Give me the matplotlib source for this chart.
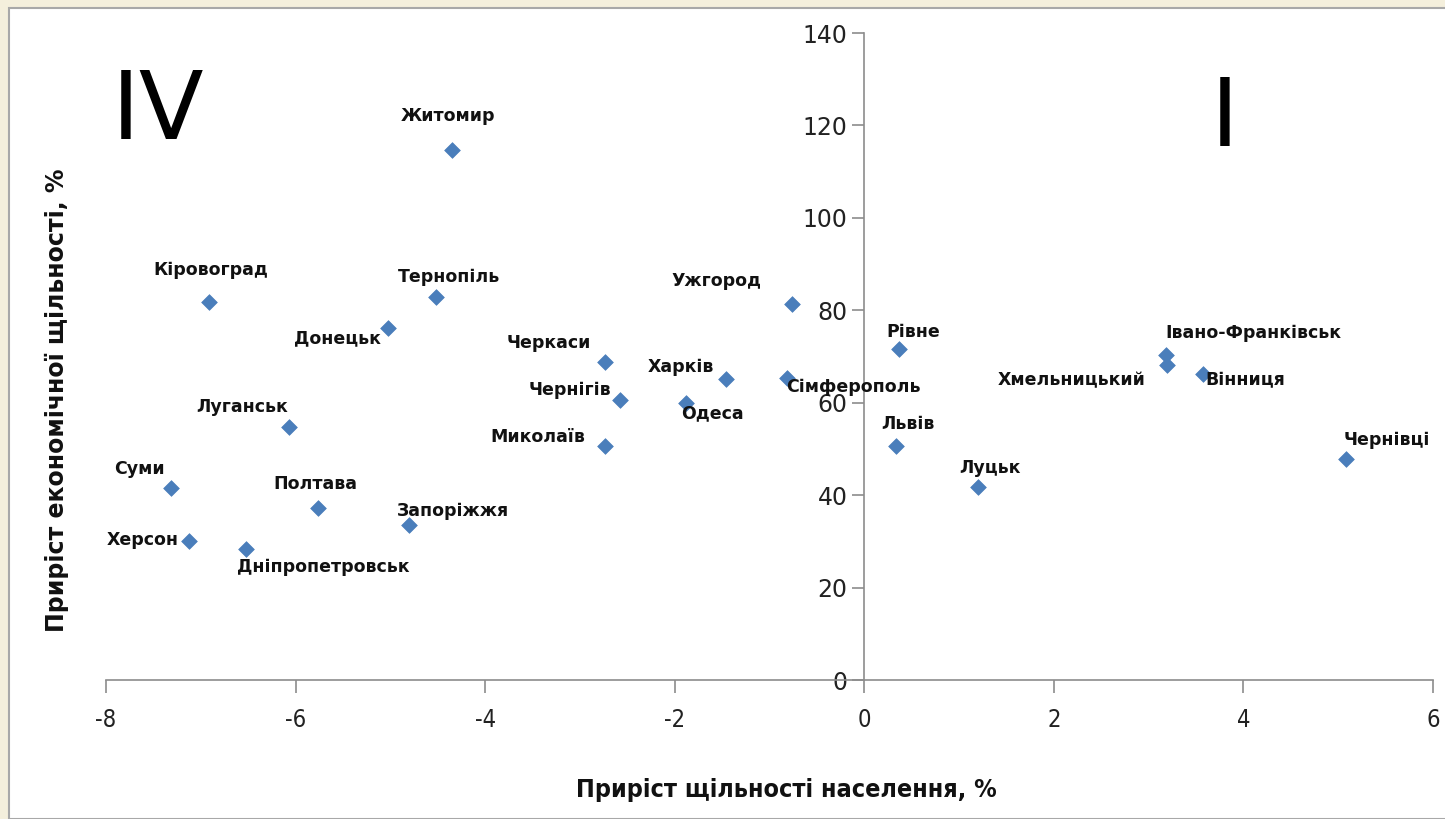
import matplotlib.pyplot as plt
from matplotlib.patches import Rectangle

# Regional centres: population density growth (x) vs economic density growth (y), %
cities = ['Житомир', 'Кіровоград', 'Тернопіль', 'Донецьк', 'Ужгород', 'Черкаси',
          'Харків', 'Сімферополь', 'Чернігів', 'Одеса', 'Луганськ', 'Миколаїв',
          'Суми', 'Полтава', 'Запоріжжя', 'Херсон', 'Дніпропетровськ', 'Рівне',
          'Львів', 'Луцьк', 'Івано-Франківськ', 'Хмельницький', 'Вінниця', 'Чернівці']
pop_growth = [-4.35, -6.91, -4.52, -5.03, -0.76, -2.74,
              -1.46, -0.82, -2.58, -1.88, -6.07, -2.74,
              -7.31, -5.76, -4.80, -7.12, -6.52, 0.37,
              0.33, 1.20, 3.18, 3.19, 3.57, 5.08]
econ_growth = [114.7, 81.8, 82.9, 76.2, 81.4, 68.8,
               65.1, 65.4, 60.6, 59.9, 54.7, 50.6,
               41.5, 37.2, 33.5, 30.1, 28.3, 71.6,
               50.6, 41.8, 70.3, 68.2, 66.2, 47.8]
x_ticks = [-8, -6, -4, -2, 0, 2, 4, 6]
y_ticks = [0, 20, 40, 60, 80, 100, 120, 140]

# label placement: (dx px, dy px, ha)
label_pos = {
    'Житомир': (-4, 34, 'center'), 'Кіровоград': (1, 32, 'center'),
    'Тернопіль': (13, 20, 'center'), 'Донецьк': (-7, -10, 'right'),
    'Ужгород': (-76, 23, 'center'), 'Черкаси': (-56, 19, 'center'),
    'Харків': (-45, 12, 'center'), 'Сімферополь': (0, -9, 'left'),
    'Чернігів': (-8, 10, 'right'), 'Одеса': (26, -10, 'center'),
    'Луганськ': (-47, 20, 'center'), 'Миколаїв': (-19, 9, 'right'),
    'Суми': (-32, 19, 'center'), 'Полтава': (-3, 24, 'center'),
    'Запоріжжя': (-12, 14, 'left'), 'Херсон': (-11, 1, 'right'),
    'Дніпропетровськ': (77, -18, 'center'), 'Рівне': (14, 17, 'center'),
    'Львів': (12, 22, 'center'), 'Луцьк': (12, 19, 'center'),
    'Івано-Франківськ': (0, 22, 'left'), 'Хмельницький': (-21, -15, 'right'),
    'Вінниця': (3, -6, 'left'), 'Чернівці': (41, 19, 'center'),
}

plt.rcParams['font.family'] = ['DejaVu Sans']
plt.rcParams['axes.unicode_minus'] = False

fig = plt.figure(figsize=(14.45, 8.19), dpi=100)
fig.patch.set_facecolor('#f4efdc')
# white slide panel with grey edge
fig.patches.append(Rectangle((9 / 1445, 0), 1, 1 - 8 / 819, transform=fig.transFigure,
                             facecolor='white', edgecolor='#a8a8a8', linewidth=1.5,
                             zorder=-10))

ax = fig.add_axes([106 / 1445, 1 - 680 / 819, 1327 / 1445, 647 / 819])
ax.set_zorder(5)
ax.set_facecolor('none')
ax.set_xlim(-8, 6)
ax.set_ylim(0, 140)

ax.spines['left'].set_position(('data', 0))
ax.spines['top'].set_visible(False)
ax.spines['right'].set_visible(False)
for s in ('left', 'bottom'):
    ax.spines[s].set_color('#8c8c8c')
    ax.spines[s].set_linewidth(1.2)

ax.set_xticks(x_ticks)
ax.set_yticks(y_ticks)
ax.tick_params(axis='both', color='#8c8c8c', width=1.2, length=9, direction='out')
ax.tick_params(axis='x', labelcolor='#222222', labelsize=17, pad=11)
ax.tick_params(axis='y', labelcolor='#222222', labelsize=17, pad=3)
for lbl in ax.get_xticklabels():
    lbl.set_fontstretch('condensed')

ax.scatter(pop_growth, econ_growth, marker='D', s=64, color='#4a7ebb',
           edgecolors='#4a7ebb', linewidths=0.5, zorder=3, clip_on=False)

for name, x, y in zip(cities, pop_growth, econ_growth):
    dx, dy, ha = label_pos[name]
    ax.annotate(name, (x, y), xytext=(dx, dy), textcoords='offset pixels',
                ha=ha, va='center', fontsize=12.5, fontweight='bold',
                color='#111111', zorder=4)

fig.text(158 / 1445, 1 - 113 / 819, 'IV', fontsize=68,
         ha='center', va='center', color='black')
fig.text(1225 / 1445, 1 - 120 / 819, 'I', fontsize=68,
         ha='center', va='center', color='black')

fig.text(57 / 1445, 1 - 400 / 819, 'Приріст економічної щільності, %', rotation=90,
         ha='center', va='center', fontsize=17, fontweight='bold', color='#111111')
fig.text(786 / 1445, 1 - 790 / 819, 'Приріст щільності населення, %',
         ha='center', va='center', fontsize=18, fontweight='bold',
         fontstretch='condensed', color='#111111')

fig.savefig('out.png', dpi=100, facecolor=fig.get_facecolor())
